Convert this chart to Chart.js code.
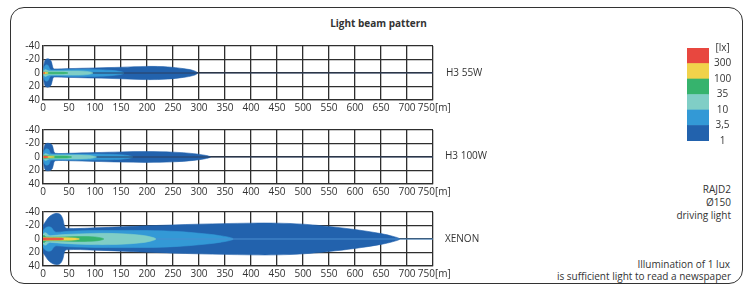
<!DOCTYPE html>
<html><head><meta charset="utf-8">
<script src="https://cdn.jsdelivr.net/npm/chart.js@4/dist/chart.umd.min.js"></script>
<style>
html,body{margin:0;padding:0;background:#fff;}
body{width:747px;height:284px;position:relative;overflow:hidden;font-family:"Open Sans",sans-serif;color:#333;}
.frame{position:absolute;left:10px;top:7px;width:733px;height:277px;border:1.4px solid #333;border-radius:14px;box-sizing:border-box;}
.cv{position:absolute;}
.t{position:absolute;font-size:10px;white-space:nowrap;line-height:1;}
.r{text-align:right;}
</style></head><body>
<div class="frame"></div>
<div class="t" id="title" style="left:0;width:757px;text-align:center;top:18px;font-weight:bold;font-size:10px;">Light beam pattern</div>
<div class="cv" style="left:0;top:36px;width:470px;height:80px"><canvas id="c1"></canvas></div>
<div class="cv" style="left:0;top:120px;width:470px;height:80px"><canvas id="c2"></canvas></div>
<div class="cv" style="left:0;top:202px;width:470px;height:80px"><canvas id="c3"></canvas></div>
<div class="cv" style="left:670px;top:37px;width:70px;height:115px"><canvas id="lg"></canvas></div>
<div class="t" style="left:446px;top:67px;">H3 55W</div>
<div class="t" style="left:445px;top:150px;">H3 100W</div>
<div class="t" style="left:445px;top:233px;">XENON</div>
<div class="t r" style="right:16px;top:184px;">RAJD2</div>
<div class="t r" style="right:16px;top:197px;">Ø150</div>
<div class="t r" style="right:16px;top:210px;">driving light</div>
<div class="t r" style="right:17px;top:259px;">Illumination of 1 lux</div>
<div class="t r" style="right:16px;top:271px;">is sufficient light to read a newspaper</div>
<script>
// ---- data: beam iso-lux contours, [distance m, half-width m] ----
const xTicks = [0,50,100,150,200,250,300,350,400,450,500,550,600,650,700,750];
const yTicks = [-40,-20,0,20,40];
const luxLevels = ['1','3,5','10','35','100','300','[lx]'];
const luxColors = ['#2262ad','#3399d6','#80cec6','#36b36d','#f1d24b','#e8473f'];
const panelNames = ['H3 55W','H3 100W','XENON'];

const H55_1   = [[1,8],[3,17],[6,20.5],[12,20.5],[16,17],[19,8],[22,6],[50,6.5],[100,7.5],[150,8.5],[200,9.8],[240,9],[270,6.5],[290,3.5],[297,0]];
const H55_3_5 = [[1,4],[3,10],[6,12],[10,11],[13,6],[16,4.5],[50,5],[100,5],[130,4],[150,2],[156,0]];
const H55_10  = [[1,3],[4,5],[8,4],[12,3],[40,3],[70,3],[88,2],[96,0]];
const H55_35  = [[1,1.6],[10,1.2],[40,1],[48,0]];
const H55_100 = [[1,1.3],[6,1],[10,0]];
const H55_300 = [[1,1],[4,0]];

const H100_1   = [[1,8],[3,17],[6,20],[13,20],[18,17],[21,8],[24,5.5],[50,5.5],[100,6.5],[150,7.5],[200,8],[250,7.2],[290,5],[312,2.5],[322,0]];
const H100_3_5 = [[1,4],[3,10],[6,12],[11,11],[14,6],[17,4.5],[60,4.5],[120,4.2],[155,3],[173,0]];
const H100_10  = [[1,3],[4,5],[8,4.5],[12,3],[50,3],[85,2.5],[103,0]];
const H100_35  = [[1,2.5],[8,2],[20,1.6],[45,1.4],[55,0]];
const H100_100 = [[1,1.5],[10,1],[22,0]];
const H100_300 = [[1,1.2],[6,0.8],[10,0]];

const XEN_1   = [[0,20],[5,26],[12,33],[22,37.5],[32,37],[38,30],[41,20],[45,16],[100,16.5],[200,19.5],[300,22],[400,23.5],[450,23.5],[500,22],[550,18.5],[600,14],[650,8],[675,3.5],[686,0]];
const XEN_3_5 = [[0,12],[4,16],[10,18],[16,17],[21,12],[26,10],[50,11.5],[100,12.5],[200,12.5],[260,11],[300,8.5],[340,5],[366,0]];
const XEN_10  = [[0,7],[3,9],[7,8.5],[10,6],[15,5],[40,6.5],[100,8.3],[150,7.8],[190,5.5],[210,2.5],[217,0]];
const XEN_35  = [[0,5],[3,5],[6,3],[30,2.8],[70,3.6],[100,3],[112,1.5],[117,0]];
const XEN_100 = [[0,2],[20,1.7],[45,2],[62,1.3],[70,0]];
const XEN_300 = [[0,1.6],[15,1.2],[35,1],[40,0]];

const panels = [
  {id:'c1', levels:[H55_1,H55_3_5,H55_10,H55_35,H55_100,H55_300], axisLine:'#2a3f60'},
  {id:'c2', levels:[H100_1,H100_3_5,H100_10,H100_35,H100_100,H100_300], axisLine:'#2a3f60'},
  {id:'c3', levels:[XEN_1,XEN_3_5,XEN_10,XEN_35,XEN_100,XEN_300], axisLine:'#4a8ed0'}
];

const FONT = {family:'"Open Sans", sans-serif', size:10};
const TXT = '#333';
const GRID = '#2e2e2e';

function outline(prof){
  const top = prof.map(([x,h])=>({x:x, y:-h}));
  const rev = prof.slice().reverse();
  if (rev[0][1] === 0) rev.shift();
  const bot = rev.map(([x,h])=>({x:x, y:h}));
  return top.concat(bot);
}

panels.forEach(p=>{
  const ds = p.levels.map((prof,i)=>({
    data: outline(prof),
    backgroundColor: luxColors[i],
    borderColor: luxColors[i],
    borderWidth: 0.6,
    fill: 'shape',
    tension: 0.35,
    pointRadius: 0,
    order: 10 - i
  }));
  ds.push({data:[{x:0,y:0},{x:750,y:0}], borderColor:p.axisLine, borderWidth:1, pointRadius:0, fill:false, order:8.5});
  new Chart(document.getElementById(p.id), {
    type:'line',
    data:{datasets: ds},
    options:{
      responsive:true, maintainAspectRatio:false, animation:false, events:[],
      layout:{padding:{top:10,right:37,left:0,bottom:0}},
      plugins:{legend:{display:false}, tooltip:{enabled:false}},
      scales:{
        x:{type:'linear', min:0, max:750,
           afterBuildTicks: s=>{ s.ticks = xTicks.map(v=>({value:v})); },
           afterFit: s=>{ s.height = 16; },
           grid:{color:GRID, lineWidth:1.3, drawTicks:false},
           border:{display:true,color:GRID,width:1.3},
           ticks:{font:FONT, color:TXT, padding:2, maxRotation:0, autoSkip:false,
                  callback:v=> v===750 ? ' 750[m]' : String(v)}},
        y:{type:'linear', min:-40, max:40, reverse:true,
           afterBuildTicks: s=>{ s.ticks = yTicks.map(v=>({value:v})); },
           afterFit: s=>{ s.width = 43; },
           grid:{color:GRID, lineWidth:1.3, drawTicks:false},
           border:{display:true,color:GRID,width:1.3},
           ticks:{font:FONT, color:TXT, padding:3, autoSkip:false,
                  callback:v=> String(v)}}
      }
    }
  });
});

// legend colour bar
const lgDs = luxColors.map((c,i)=>({data:[[i,i+1]], backgroundColor:c, borderWidth:0, grouped:false, barPercentage:1, categoryPercentage:1}));
lgDs.push({data:[[0,6]], backgroundColor:'rgba(0,0,0,0)', borderColor:'#222', borderWidth:1, borderSkipped:false, grouped:false, barPercentage:1, categoryPercentage:1});
new Chart(document.getElementById('lg'), {
  type:'bar',
  data:{labels:[''], datasets:lgDs},
  options:{
    responsive:true, maintainAspectRatio:false, animation:false, events:[],
    layout:{padding:{top:10,bottom:9,left:17,right:0}},
    plugins:{legend:{display:false}, tooltip:{enabled:false}},
    scales:{
      x:{display:false},
      y:{position:'right', min:0, max:6,
         afterBuildTicks: s=>{ s.ticks = luxLevels.map((_,i)=>({value:i})); },
         afterFit: s=>{ s.width = 31; },
         grid:{display:false, drawTicks:false}, border:{display:false},
         ticks:{font:FONT, color:TXT, crossAlign:'center', padding:5, autoSkip:false,
                callback:v=> luxLevels[v]}}
    }
  }
});
</script>
</body></html>
